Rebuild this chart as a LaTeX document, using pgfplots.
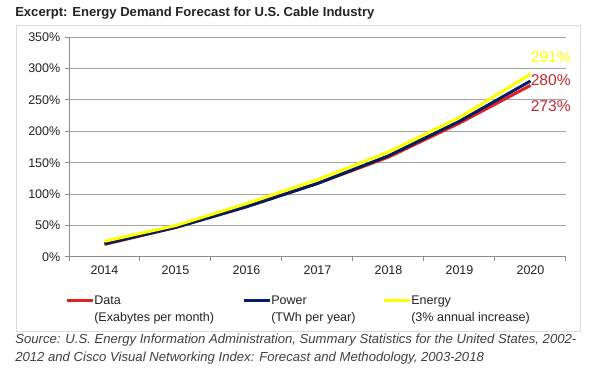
\documentclass[border=0pt]{standalone}
\usepackage{pgfplots}
\pgfplotsset{compat=1.18}
\usepackage{fontspec}
\setmainfont{Liberation Sans}
\definecolor{datared}{RGB}{226,30,38}
\definecolor{navy}{RGB}{0,32,96}
\definecolor{enyellow}{RGB}{255,255,0}
\definecolor{labred}{RGB}{192,40,45}
\definecolor{gridgray}{RGB}{165,165,165}
\definecolor{axgray}{RGB}{140,140,140}
\definecolor{txt}{RGB}{35,35,35}
\definecolor{srcgray}{RGB}{64,64,64}
\definecolor{boxgray}{RGB}{220,220,220}
\begin{document}
\begin{tikzpicture}[x=0.75pt,y=-0.75pt]
\path[use as bounding box, fill=white] (0,0) rectangle (600,370);
\draw[boxgray] (16,25) rectangle (580,331);
\node[anchor=base west, inner sep=0pt, font=\fontsize{9.8}{11}\selectfont\bfseries, text=txt] at (15,17) {Excerpt: Energy Demand Forecast for U.S. Cable Industry};
\begin{axis}[at={(51.75pt,-192.75pt)}, anchor=south west, scale only axis,
  width=372.75pt, height=165pt, clip=false,
  xmin=2013.5, xmax=2020.5, ymin=0, ymax=350,
  axis x line*=bottom, axis y line*=left,
  axis line style={axgray, line width=0.75pt, -},
  xtick={2014,2015,2016,2017,2018,2019,2020},
  xticklabels={2014,2015,2016,2017,2018,2019,2020},
  major x tick style={draw=none},
  minor xtick={2013.5,2014.5,2015.5,2016.5,2017.5,2018.5,2019.5,2020.5},
  minor x tick style={axgray, line width=0.75pt},
  minor tick length=3pt,
  ytick={0,50,100,150,200,250,300,350},
  yticklabel={\pgfmathprintnumber{\tick}\%},
  ytick style={axgray, line width=0.75pt},
  major tick length=3pt,
  tick align=outside,
  ymajorgrids, grid style={gridgray, line width=0.75pt},
  /pgf/number format/assume math mode=true,
  ticklabel style={font=\fontsize{9.4}{11}\selectfont, text=txt},
  legend columns=3,
  legend style={at={(-0.016,-0.165)}, anchor=north west, draw=none, fill=none,
    font=\fontsize{9.4}{12.5}\selectfont, text=txt,
    nodes={anchor=base west, inner sep=0pt},
    /tikz/every odd column/.append style={column sep=0pt},
    /tikz/every even column/.append style={column sep=0pt}},
  legend image code/.code={\draw[#1] (0pt,3.3pt)--(19.5pt,3.3pt);},
]
\addplot[datared, line width=2.25pt, line join=round] coordinates {(2014,20)(2015,47)(2016,80)(2017,117)(2018,159)(2019,213)(2020,273)};
\addlegendentry{\parbox[t]{111pt}{Data\\(Exabytes per month)}}
\addplot[navy, line width=2.25pt, line join=round] coordinates {(2014,21)(2015,47)(2016,80)(2017,117)(2018,161)(2019,216)(2020,280)};
\addlegendentry{\parbox[t]{83.25pt}{Power\\(TWh per year)}}
\addplot[enyellow, line width=2.25pt, line join=round] coordinates {(2014,25)(2015,50)(2016,85)(2017,123)(2018,167)(2019,222)(2020,291)};
\addlegendentry{\parbox[t]{120pt}{Energy\\(3\% annual increase)}}
\node[anchor=west, inner sep=0pt, text=enyellow, font=\fontsize{11.7}{13}\selectfont] at (axis cs:2020,318) {291\%};
\node[anchor=west, inner sep=0pt, text=labred, font=\fontsize{11.7}{13}\selectfont] at (axis cs:2020,281) {280\%};
\node[anchor=west, inner sep=0pt, text=labred, font=\fontsize{11.7}{13}\selectfont] at (axis cs:2020,240) {273\%};
\end{axis}
\node[anchor=north west, align=left, inner sep=0pt, font=\fontsize{9.85}{13.5}\selectfont\itshape, text=srcgray] at (15,334) {Source: U.S. Energy Information Administration, Summary Statistics for the United States, 2002-\\2012 and Cisco Visual Networking Index: Forecast and Methodology, 2003-2018};
\end{tikzpicture}
\end{document}
